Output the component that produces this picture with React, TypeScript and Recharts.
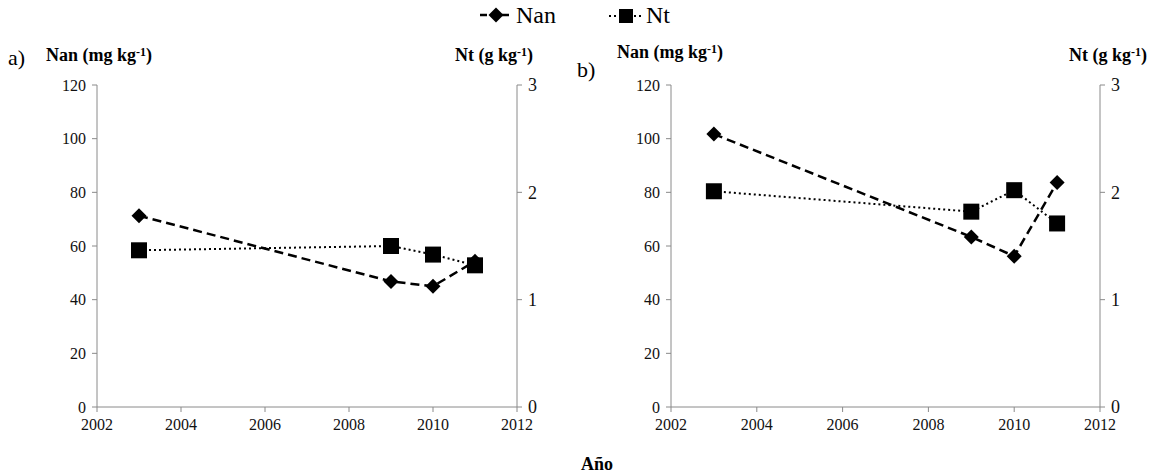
import React from "react";
import { LineChart, Line, XAxis, YAxis } from "recharts";

const years = [2003, 2009, 2010, 2011];
const nanA = [71.3, 46.8, 45.0, 54.3];
const ntA = [1.46, 1.5, 1.42, 1.32];
const nanB = [101.7, 63.4, 56.2, 83.7];
const ntB = [2.01, 1.82, 2.02, 1.71];
const xTicks = [2002, 2004, 2006, 2008, 2010, 2012];
const nanTicks = [0, 20, 40, 60, 80, 100, 120];
const ntTicks = [0, 1, 2, 3];

const FONT = "'Liberation Serif', 'DejaVu Serif', 'Times New Roman', Times, serif";
const AXIS = "#8a8a8a";

const buildRows = (nan: number[], nt: number[]) =>
  years.map((y, i) => ({ year: y, nan: nan[i], nt: nt[i] }));

const Diamond = (props: any) => {
  const { cx, cy, index } = props;
  if (cx == null || cy == null) return <g key={"d" + index} />;
  const r = 7.5;
  return (
    <path
      key={"d" + index}
      d={`M${cx},${cy - r}L${cx + r},${cy}L${cx},${cy + r}L${cx - r},${cy}Z`}
      fill="#000"
    />
  );
};

const Square = (props: any) => {
  const { cx, cy, index } = props;
  if (cx == null || cy == null) return <g key={"s" + index} />;
  const h = 8;
  return <rect key={"s" + index} x={cx - h} y={cy - h} width={2 * h} height={2 * h} fill="#000" />;
};

const tickStyle = { fontFamily: FONT, fontSize: 16, fill: "#111" };
const rightTickStyle = { fontFamily: FONT, fontSize: 18, fill: "#111" };

function Panel({ nan, nt, left, width, ml, mr }: any) {
  const data = buildRows(nan, nt);
  return (
    <div style={{ position: "absolute", left, top: 0, fontFamily: FONT }}>
      <LineChart
        width={width}
        height={475}
        data={data}
        margin={{ top: 85, right: mr, bottom: 38, left: ml }}
        style={{ fontFamily: FONT }}
      >
        <XAxis
          dataKey="year"
          type="number"
          domain={[2002, 2012]}
          ticks={xTicks}
          stroke={AXIS}
          tickSize={5}
          tickMargin={7}
          height={30}
          tick={tickStyle}
          allowDataOverflow
        />
        <YAxis
          yAxisId="l"
          domain={[0, 120]}
          ticks={nanTicks}
          stroke={AXIS}
          tickSize={5}
          tickMargin={6}
          width={60}
          tick={tickStyle}
          interval={0}
        />
        <YAxis
          yAxisId="r"
          orientation="right"
          domain={[0, 3]}
          ticks={ntTicks}
          stroke={AXIS}
          tickSize={5}
          tickMargin={6}
          width={40}
          tick={rightTickStyle}
          interval={0}
        />
        <Line
          yAxisId="l"
          dataKey="nan"
          stroke="#000"
          strokeWidth={2.5}
          strokeDasharray="9 5"
          dot={Diamond}
          activeDot={false}
          isAnimationActive={false}
        />
        <Line
          yAxisId="r"
          dataKey="nt"
          stroke="#000"
          strokeWidth={2}
          strokeDasharray="2 3"
          dot={Square}
          activeDot={false}
          isAnimationActive={false}
        />
      </LineChart>
    </div>
  );
}

const lbl: React.CSSProperties = {
  position: "absolute",
  fontFamily: FONT,
  fontWeight: "bold",
  fontSize: 18,
  whiteSpace: "nowrap",
  lineHeight: "20px",
};

const Sup = ({ children }: any) => (
  <sup style={{ fontSize: 12, verticalAlign: "top", position: "relative", top: -3 }}>{children}</sup>
);

export default function App() {
  return (
    <div
      style={{
        position: "absolute",
        left: 0,
        top: 0,
        width: 1152,
        height: 475,
        background: "#fff",
        overflow: "hidden",
        fontFamily: FONT,
      }}
    >
      <Panel nan={nanA} nt={ntA} left={0} width={580} ml={37} mr={23} />
      <Panel nan={nanB} nt={ntB} left={580} width={572} ml={31} mr={12} />

      {/* legend */}
      <div
        style={{
          position: "absolute",
          top: 1,
          left: 478,
          fontSize: 24,
          lineHeight: "28px",
          display: "flex",
          alignItems: "center",
          fontFamily: FONT,
        }}
      >
        <svg width={36} height={22} style={{ marginRight: 2 }}>
          <line x1={2} y1={11} x2={34} y2={11} stroke="#000" strokeWidth={2.5} strokeDasharray="7 4" />
          <path d="M18,3.5L25.5,11L18,18.5L10.5,11Z" fill="#000" />
        </svg>
        <span>Nan</span>
        <svg width={36} height={22} style={{ marginLeft: 52, marginRight: 2 }}>
          <line x1={1} y1={12} x2={35} y2={12} stroke="#000" strokeWidth={2} strokeDasharray="2 3" />
          <rect x={11} y={5} width={14} height={14} fill="#000" />
        </svg>
        <span>Nt</span>
      </div>

      {/* panel a labels */}
      <div style={{ position: "absolute", left: 8, top: 45, fontSize: 22, fontFamily: FONT }}>a)</div>
      <div style={{ ...lbl, left: 46, top: 45 }}>
        Nan (mg kg<Sup>-1</Sup>)
      </div>
      <div style={{ ...lbl, right: 1152 - 533, top: 45 }}>
        Nt (g kg<Sup>-1</Sup>)
      </div>

      {/* panel b labels */}
      <div style={{ position: "absolute", left: 577, top: 57, fontSize: 22, fontFamily: FONT }}>b)</div>
      <div style={{ ...lbl, left: 617, top: 42 }}>
        Nan (mg kg<Sup>-1</Sup>)
      </div>
      <div style={{ ...lbl, right: 5, top: 45 }}>
        Nt (g kg<Sup>-1</Sup>)
      </div>

      {/* x axis title */}
      <div style={{ ...lbl, left: 581, top: 454, fontSize: 18 }}>Año</div>
    </div>
  );
}
